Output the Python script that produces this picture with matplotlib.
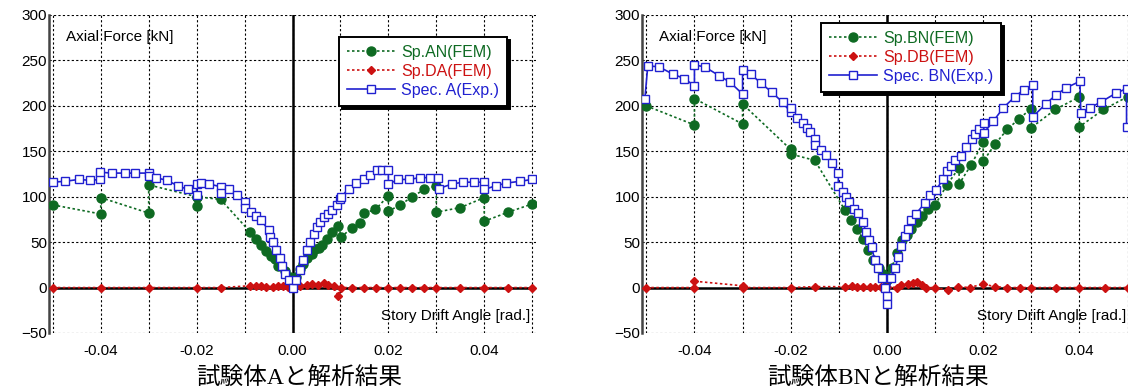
import matplotlib
matplotlib.use('Agg')
import matplotlib.pyplot as plt
from matplotlib.ticker import MultipleLocator

plt.rcParams['font.family'] = ['Liberation Sans', 'DejaVu Sans']

# ---- specimen A ----
a_fem_x = [-0.05, -0.04, -0.04, -0.03, -0.03, -0.02, -0.02, -0.02, -0.015,
           -0.0088, -0.0076, -0.0065, -0.0055, -0.0045, -0.0037, -0.003, -0.0016, -0.0006,
           0.0, 0.0008, 0.0015, 0.0022, 0.003, 0.004, 0.0047, 0.0055, 0.0062, 0.0072,
           0.0082, 0.0095, 0.0102, 0.0125, 0.014, 0.015, 0.0173, 0.02, 0.02, 0.0225,
           0.025, 0.0275, 0.03, 0.03, 0.035, 0.04, 0.04, 0.045, 0.05]
a_fem_y = [91, 81, 99, 82, 113, 100, 90, 100, 97,
           61, 54, 47, 40, 35, 31, 24, 18, 12,
           3, 12, 20, 26, 32, 37, 43, 44, 47, 53,
           61, 68, 56, 66, 71, 82, 86, 101, 84, 91,
           100, 108, 112, 83, 88, 99, 73, 83, 92]

a_da_x = [-0.05, -0.04, -0.03, -0.02, -0.015, -0.0088, -0.0076, -0.0065, -0.0055,
          -0.0041, -0.003, -0.002, -0.001, 0.0, 0.0015, 0.003, 0.004, 0.0053, 0.0065,
          0.0075, 0.0086, 0.0095, 0.0102, 0.0125, 0.015, 0.0175, 0.02, 0.0225, 0.025,
          0.0275, 0.03, 0.035, 0.04, 0.045, 0.05]
a_da_y = [0, 0, 0, 0, 0, 2, 2, 2, 1,
          1, 2, 2, 1, 0, 2, 3, 4, 3, 5,
          3, 2, -9, 0, 0, 0, 0, 0, 0, 0,
          0, 0, 0, 0, 0, 0]

a_exp_x = [-0.05, -0.0474, -0.0446, -0.0422, -0.0402, -0.0402, -0.0377, -0.035, -0.0328,
           -0.03, -0.03, -0.0285, -0.0262, -0.0239, -0.0218, -0.02, -0.02, -0.019, -0.0174,
           -0.015, -0.015, -0.0132, -0.0116, -0.0099, -0.0099, -0.0086, -0.0076, -0.0065,
           -0.005, -0.0046, -0.0041, -0.0034, -0.0027, -0.0022, -0.0015, -0.0008, 0.0,
           0.0008, 0.0015, 0.0022, 0.003, 0.0036, 0.0044, 0.0051, 0.0057, 0.0065, 0.0075,
           0.0082, 0.0093, 0.0100, 0.0102, 0.0117, 0.0133, 0.0149, 0.0161, 0.0177, 0.0187,
           0.02, 0.02, 0.0221, 0.0244, 0.0265, 0.0286, 0.0303, 0.0305, 0.0333, 0.0356,
           0.0379, 0.04, 0.04, 0.0424, 0.0446, 0.0475, 0.05]
a_exp_y = [116, 117, 119, 118, 119, 127, 126, 126, 126,
           126, 123, 121, 118, 112, 108, 102, 114, 115, 114,
           111, 104, 109, 102, 94, 88, 83, 79, 74,
           63, 56, 50, 41, 32, 24, 15, 8, -1,
           8, 19, 30, 41, 50, 59, 67, 72, 78, 81,
           85, 91, 98, 100, 109, 115, 119, 124, 129, 129,
           129, 114, 119, 119, 121, 121, 121, 109, 114, 116,
           116, 116, 108, 112, 115, 117, 119]

# ---- specimen BN ----
b_fem_x = [-0.05, -0.04, -0.04, -0.03, -0.03, -0.02, -0.02, -0.015,
           -0.0087, -0.0075, -0.0062, -0.005, -0.0039, -0.0028, -0.0016, -0.0008,
           0.0, 0.001, 0.002, 0.0031, 0.0041, 0.0051, 0.0062, 0.0072, 0.0086, 0.01,
           0.0125, 0.015, 0.015, 0.0175, 0.02, 0.02, 0.0225, 0.025, 0.0275, 0.03,
           0.03, 0.035, 0.04, 0.04, 0.045, 0.05]
b_fem_y = [200, 179, 208, 180, 202, 152, 147, 140,
           85, 74, 64, 54, 41, 30, 21, 15,
           8, 21, 38, 52, 58, 65, 72, 79, 86, 91,
           113, 132, 114, 135, 160, 139, 158, 174, 186, 197,
           176, 196, 210, 177, 196, 210]

b_db_x = [-0.05, -0.04, -0.04, -0.03, -0.03, -0.02, -0.015, -0.0087, -0.0073,
          -0.0062, -0.0049, -0.0035, -0.0025, -0.0012, 0.0, 0.002, 0.003, 0.0044,
          0.0055, 0.0062, 0.0072, 0.0082, 0.01, 0.0127, 0.0148, 0.0172, 0.02, 0.0224,
          0.0249, 0.0276, 0.03, 0.0351, 0.04, 0.0453, 0.05]
b_db_y = [0, 0, 7, 2, 0, 0, 1, 1, 2,
          1, 1, 1, 1, 1, 1, 0, 3, 4,
          5, 6, 3, 0, 0, -3, 1, 0, 4, 1,
          0, 0, 0, 0, 0, 0, 0]

b_exp_x = [-0.0503, -0.0497, -0.0474, -0.0445, -0.0421, -0.04, -0.04, -0.0379, -0.0348,
           -0.0326, -0.03, -0.03, -0.0283, -0.0262, -0.0239, -0.0217, -0.02, -0.02,
           -0.0186, -0.0175, -0.0167, -0.016, -0.015, -0.015, -0.0138, -0.0127, -0.0115,
           -0.0101, -0.0101, -0.0092, -0.0085, -0.0078, -0.0069, -0.006, -0.0049, -0.0044,
           -0.0037, -0.0032, -0.0025, -0.0018, -0.0011, -0.0004, 0.0, 0.0, 0.0008,
           0.0017, 0.0024, 0.003, 0.0037, 0.0044, 0.0051, 0.006, 0.0079, 0.0089, 0.0102,
           0.0117, 0.0124, 0.0133, 0.0141, 0.0153, 0.0164, 0.0176, 0.0183, 0.0192, 0.0201,
           0.0201, 0.0221, 0.0242, 0.0266, 0.0285, 0.0303, 0.0303, 0.033, 0.0351, 0.0373,
           0.0401, 0.0403, 0.0422, 0.0444, 0.0476, 0.0498, 0.0498]
b_exp_y = [208, 244, 243, 235, 230, 222, 245, 243, 233,
           226, 213, 239, 235, 225, 215, 204, 193, 198,
           187, 181, 176, 171, 164, 157, 151, 146, 137,
           126, 112, 105, 100, 94, 87, 82, 72, 61,
           52, 45, 30, 21, 11, 0, -9, -18, 10,
           22, 34, 46, 57, 65, 74, 81, 93, 102, 107,
           120, 128, 134, 140, 145, 155, 163, 169, 174, 181,
           170, 183, 198, 210, 218, 223, 188, 202, 212, 220,
           227, 192, 198, 204, 214, 219, 177]

x_ticks = [-0.04, -0.02, 0.0, 0.02, 0.04]
x_ticklabels = ['-0.04', '-0.02', '0.00', '0.02', '0.04']

GREEN = '#0e6a22'
RED = '#cc1111'
BLUE = '#2020d0'

fig = plt.figure(figsize=(11.28, 3.92), dpi=100)


def draw_panel(ax, fem_x, fem_y, fem_lab, d_x, d_y, d_lab, exp_x, exp_y, exp_lab,
               xlim, leg_anchor):
    ax.set_xlim(*xlim)
    ax.set_ylim(-50, 300)
    ax.yaxis.set_major_locator(MultipleLocator(50))
    ax.set_xticks(x_ticks)
    ax.set_xticklabels(x_ticklabels)
    ax.xaxis.set_minor_locator(MultipleLocator(0.01))
    ax.grid(True, which='both', color='black', linestyle=(0, (2, 2)), linewidth=0.8)
    ax.tick_params(which='both', length=0, labelsize=11)
    ax.tick_params(axis='x', pad=8)
    ax.tick_params(axis='y', pad=1.5)
    for s in ['top', 'right', 'bottom']:
        ax.spines[s].set_visible(False)
    ax.spines['left'].set_color('#444444')
    ax.spines['left'].set_linewidth(1.8)
    ax.axhline(0, color='black', lw=1.8, zorder=2)
    ax.axvline(0, color='black', lw=1.8, zorder=2)

    ax.plot(fem_x, fem_y, linestyle=(0, (1.5, 1.5)), color=GREEN, lw=1.2,
            marker='o', ms=6.5, mfc=GREEN, mec=GREEN, label=fem_lab, zorder=3)
    ax.plot(d_x, d_y, linestyle=(0, (1.5, 1.5)), color=RED, lw=1.2,
            marker='D', ms=4.5, mfc=RED, mec=RED, label=d_lab, zorder=4)
    ax.plot(exp_x, exp_y, linestyle='-', color=BLUE, lw=1.2,
            marker='s', ms=5.2, mfc='white', mec=BLUE, mew=1.0, label=exp_lab, zorder=5)

    ax.text(0.034, 0.93, 'Axial Force [kN]', transform=ax.transAxes, fontsize=11,
            ha='left', va='center')
    ax.text(0.0497, -31, 'Story Drift Angle [rad.]', fontsize=11,
            ha='right', va='center')

    leg = ax.legend(loc='upper left', bbox_to_anchor=leg_anchor, fontsize=11.5,
                    handlelength=3.0, handletextpad=0.4, labelspacing=0.25,
                    borderpad=0.5, borderaxespad=0, numpoints=1, fancybox=False,
                    shadow={'color': 'black', 'alpha': 1.0},
                    labelcolor='linecolor', framealpha=1)
    leg.get_frame().set_edgecolor('black')
    leg.get_frame().set_linewidth(1.4)
    leg.set_zorder(10)


ax1 = fig.add_axes([49 / 1128, 1 - 333 / 392, 487 / 1128, 318 / 392])
draw_panel(ax1, a_fem_x, a_fem_y, 'Sp.AN(FEM)', a_da_x, a_da_y, 'Sp.DA(FEM)',
           a_exp_x, a_exp_y, 'Spec. A(Exp.)', (-0.0508, 0.0508), (0.595, 0.931))

ax2 = fig.add_axes([642 / 1128, 1 - 333 / 392, 486 / 1128, 318 / 392])
draw_panel(ax2, b_fem_x, b_fem_y, 'Sp.BN(FEM)', b_db_x, b_db_y, 'Sp.DB(FEM)',
           b_exp_x, b_exp_y, 'Spec. BN(Exp.)', (-0.0509, 0.0501), (0.368, 0.975))

cap_font = ['Liberation Serif', 'Noto Sans CJK JP']
fig.text(299 / 1128, 1 - 378 / 392, '試験体Aと解析結果', family=cap_font, fontsize=17,
         ha='center', va='center')
fig.text(878 / 1128, 1 - 378 / 392, '試験体BNと解析結果', family=cap_font, fontsize=17,
         ha='center', va='center')

fig.savefig('out.png', dpi=100)
plt.close(fig)
